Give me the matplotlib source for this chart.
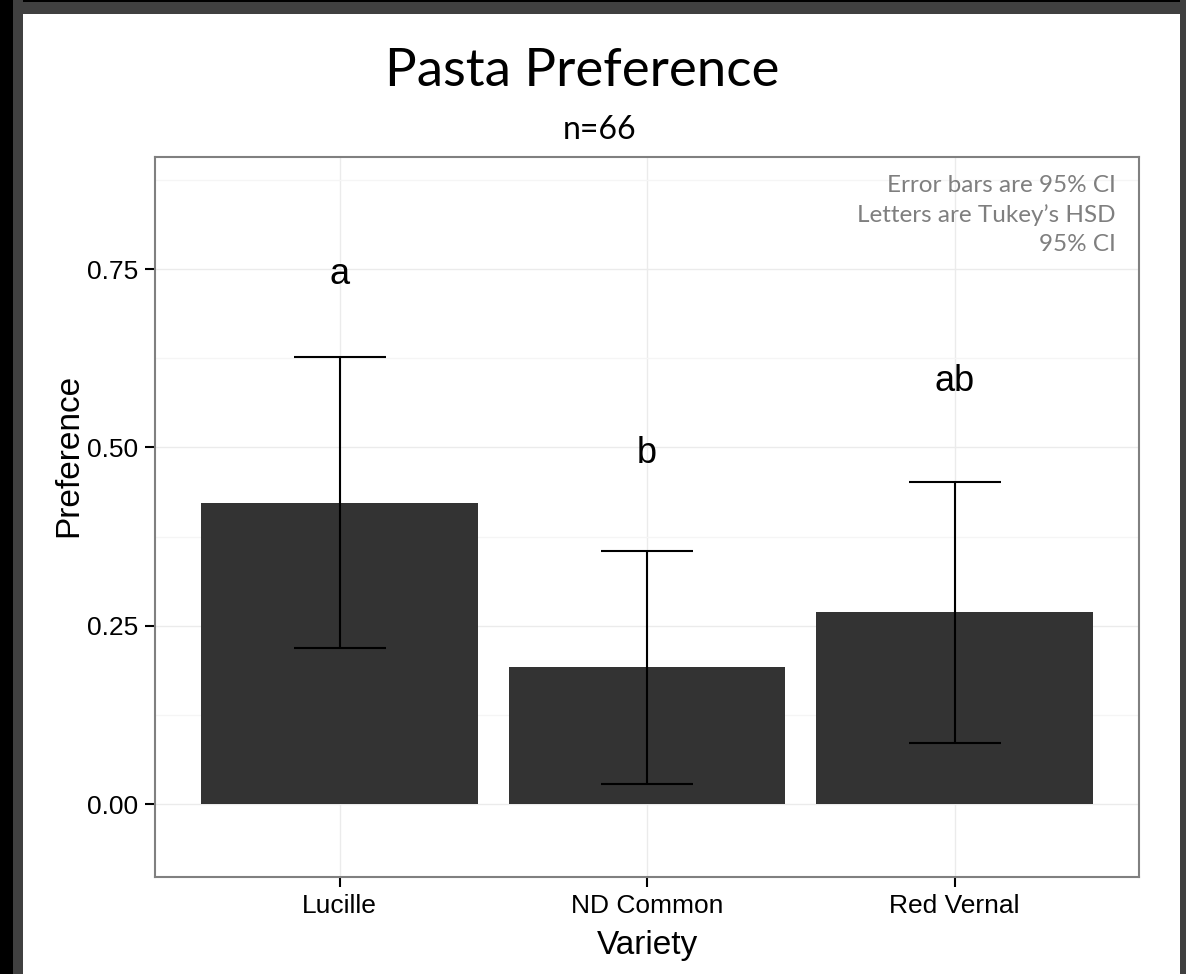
import matplotlib
matplotlib.use("Agg")
import matplotlib.pyplot as plt
from matplotlib.patches import Rectangle

# Mean preference per variety with 95% confidence limits
varieties = ["Lucille", "ND Common", "Red Vernal"]
preference = [0.422, 0.192, 0.269]
ci_lower = [0.219, 0.029, 0.086]
ci_upper = [0.627, 0.355, 0.451]
tukey_letters = ["a", "b", "ab"]
letter_y = [0.743, 0.492, 0.593]
y_ticks = [0.0, 0.25, 0.5, 0.75]
y_tick_labels = ["0.00", "0.25", "0.50", "0.75"]

W, H = 1186, 974
fig = plt.figure(figsize=(W / 100, H / 100), dpi=100)
fig.patch.set_facecolor("white")

# dark frame around the page
def px_rect(x0, y0, x1, y1, color):
    fig.patches.append(Rectangle((x0 / W, 1 - y1 / H), (x1 - x0) / W, (y1 - y0) / H,
                                 transform=fig.transFigure, facecolor=color,
                                 edgecolor="none", zorder=0))

px_rect(0, 0, W, 14, "#404040")
px_rect(0, 0, W, 2, "#000000")
px_rect(0, 0, 23, H, "#404040")
px_rect(0, 0, 13, H, "#000000")
px_rect(1180, 0, W, H, "#404040")

left, right, top, bottom = 155, 1139, 157, 877
ax = fig.add_axes([left / W, 1 - bottom / H, (right - left) / W, (bottom - top) / H])
ax.set_facecolor("white")

x = list(range(1, len(varieties) + 1))
ax.bar(x, preference, width=0.9, color="#333333", zorder=2)

yerr = [[p - lo for p, lo in zip(preference, ci_lower)],
        [hi - p for p, hi in zip(preference, ci_upper)]]
ax.errorbar(x, preference, yerr=yerr, fmt="none", ecolor="black",
            elinewidth=1.5, capsize=33, capthick=1.5, zorder=3)

for xi, lab, ly in zip(x, tukey_letters, letter_y):
    ax.text(xi, ly, lab, ha="center", va="center", fontsize=26,
            family="Liberation Sans", color="black", zorder=4)

ax.set_yticks(y_ticks)
ax.set_yticklabels(y_tick_labels)
ax.set_yticks([0.125, 0.375, 0.625, 0.875], minor=True)
ax.set_xticks(x)
ax.set_xticklabels(varieties)
ax.set_xlim(0.4, 3.6)
ax.set_ylim(-0.102, 0.907)

ax.grid(True, which="major", color="#EBEBEB", linewidth=1.0, zorder=0)
ax.grid(True, which="minor", axis="y", color="#F5F5F5", linewidth=1.0, zorder=0)
ax.set_axisbelow(True)

ax.tick_params(axis="both", which="major", length=7, width=1.5, color="black",
               labelsize=19, labelcolor="black", pad=5)
ax.tick_params(axis="both", which="minor", length=0)
for lbl in ax.get_xticklabels() + ax.get_yticklabels():
    lbl.set_family("Liberation Sans")

for side, sp in ax.spines.items():
    sp.set_color("#808080")
    sp.set_linewidth(1.5)

ax.set_xlabel("Variety", fontsize=24, family="Liberation Sans", labelpad=9)
ax.set_ylabel("Preference", fontsize=24, family="Liberation Sans")
ax.yaxis.set_label_coords(-0.072, 0.585)

ax.text(0.9766, 0.975, "Error bars are 95% CI\nLetters are Tukey\u2019s HSD\n95% CI",
        transform=ax.transAxes, ha="right", va="top", fontsize=17.5,
        family="Lato", color="#7F7F7F", linespacing=1.45)

fig.text(582 / W, 1 - 71 / H, "Pasta Preference", ha="center", va="center",
         fontsize=38, family="Lato", color="black")
fig.text(600 / W, 1 - 130 / H, "n=66", ha="center", va="center",
         fontsize=23, family="Lato", color="black")

fig.savefig("out.png", dpi=100, facecolor=fig.get_facecolor())
